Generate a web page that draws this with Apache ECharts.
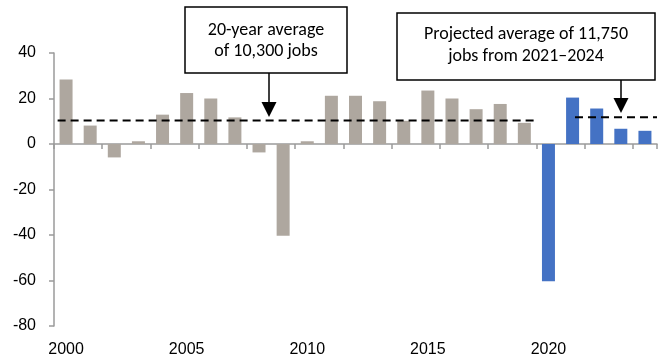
<!DOCTYPE html>
<html>
<head>
<meta charset="utf-8">
<script src="https://cdn.jsdelivr.net/npm/echarts@6/dist/echarts.min.js"></script>
<style>html,body{margin:0;padding:0;background:#fff}#c{width:665px;height:362px}</style>
</head>
<body>
<div id="c"></div>
<script>
// ---- data ----
const years = ['2000','2001','2002','2003','2004','2005','2006','2007','2008','2009','2010','2011','2012','2013','2014','2015','2016','2017','2018','2019','2020','2021','2022','2023','2024'];
const jobs = [28.3, 8.1, -5.9, 1.2, 12.9, 22.4, 20.0, 11.7, -3.7, -40.3, 1.2, 21.2, 21.2, 18.8, 10.2, 23.5, 20.0, 15.3, 17.6, 9.3, -60.3, 20.4, 15.6, 6.7, 5.8];
const firstBlueIndex = 20;
const histAvg = 10.3;
const projAvg = 11.75;
const histAvgLine = [[0.15, histAvg], [20, histAvg]];
const projAvgLine = [[21.6, projAvg], [25, projAvg]];
const yTicks = [-80, -60, -40, -20, 0, 20, 40];
const note1 = ['20-year average', 'of 10,300 jobs'];
const note2 = ['Projected average of 11,750', 'jobs from 2021\u20132024'];

const narrow = "'Liberation Sans Narrow','Arial Narrow','Liberation Sans',sans-serif";
const noteFont = "Carlito, Calibri, Lato, 'Open Sans', sans-serif";
const axisGray = '#9a9a9a';

const chart = echarts.init(document.getElementById('c'), null, {renderer: 'canvas'});

function box(x, y, w, h) {
  return {type: 'rect', shape: {x: x, y: y, width: w, height: h}, style: {fill: '#fff', stroke: '#000', lineWidth: 1.5}, z: 100};
}
function txt(x, y, s) {
  return {type: 'text', x: x, y: y, style: {text: s, font: '18px ' + noteFont, fill: '#000', align: 'center', verticalAlign: 'middle'}, z: 101};
}
function arrow(x, y1, y2) {
  return [
    {type: 'line', shape: {x1: x, y1: y1, x2: x, y2: y2 - 12}, style: {stroke: '#000', lineWidth: 1.5}, z: 100},
    {type: 'polygon', shape: {points: [[x - 7.5, y2 - 15], [x + 7.5, y2 - 15], [x, y2]]}, style: {fill: '#000'}, z: 100}
  ];
}

chart.setOption({
  animation: false,
  grid: {left: 54, right: 8, top: 53, bottom: 36, containLabel: false},
  xAxis: [
    {type: 'category', data: years, position: 'bottom',
     axisLine: {onZero: true, lineStyle: {color: axisGray, width: 1.5}},
     axisTick: {show: true, length: 5, lineStyle: {color: axisGray, width: 1.5}},
     axisLabel: {show: false}, splitLine: {show: false}},
    {type: 'value', min: 0, max: 25, show: false},
    {type: 'category', data: years, position: 'bottom',
     axisLine: {show: false, onZero: false}, axisTick: {show: false},
     axisLabel: {show: true, margin: 16, fontFamily: narrow, fontSize: 16, color: '#000',
       interval: function (i) { return i % 5 === 0; }},
     splitLine: {show: false}}
  ],
  yAxis: {type: 'value', min: yTicks[0], max: yTicks[yTicks.length - 1], interval: 20,
    axisLine: {show: true, lineStyle: {color: axisGray, width: 1.5}},
    axisTick: {show: true, length: 5, lineStyle: {color: axisGray, width: 1.5}},
    axisLabel: {margin: 18, fontFamily: narrow, fontSize: 16, color: '#000'},
    splitLine: {show: false}},
  series: [
    {type: 'bar', xAxisIndex: 0, data: jobs, barWidth: 13,
     itemStyle: {color: function (p) { return p.dataIndex >= firstBlueIndex ? '#4472c4' : '#aea79f'; }}},
    {type: 'line', xAxisIndex: 1, data: histAvgLine, symbol: 'none',
     lineStyle: {color: '#000', width: 2, type: [8, 5]}, z: 5},
    {type: 'line', xAxisIndex: 1, data: projAvgLine, symbol: 'none',
     lineStyle: {color: '#000', width: 2, type: [8, 5]}, z: 5}
  ],
  graphic: [
    box(185, 7, 162, 66), txt(266, 30, note1[0]), txt(266, 51, note1[1]),
    ...arrow(269, 73, 117),
    box(397, 13, 258, 67), txt(526, 34, note2[0]), txt(526, 56, note2[1]),
    ...arrow(621, 80, 113)
  ]
});
</script>
</body>
</html>
